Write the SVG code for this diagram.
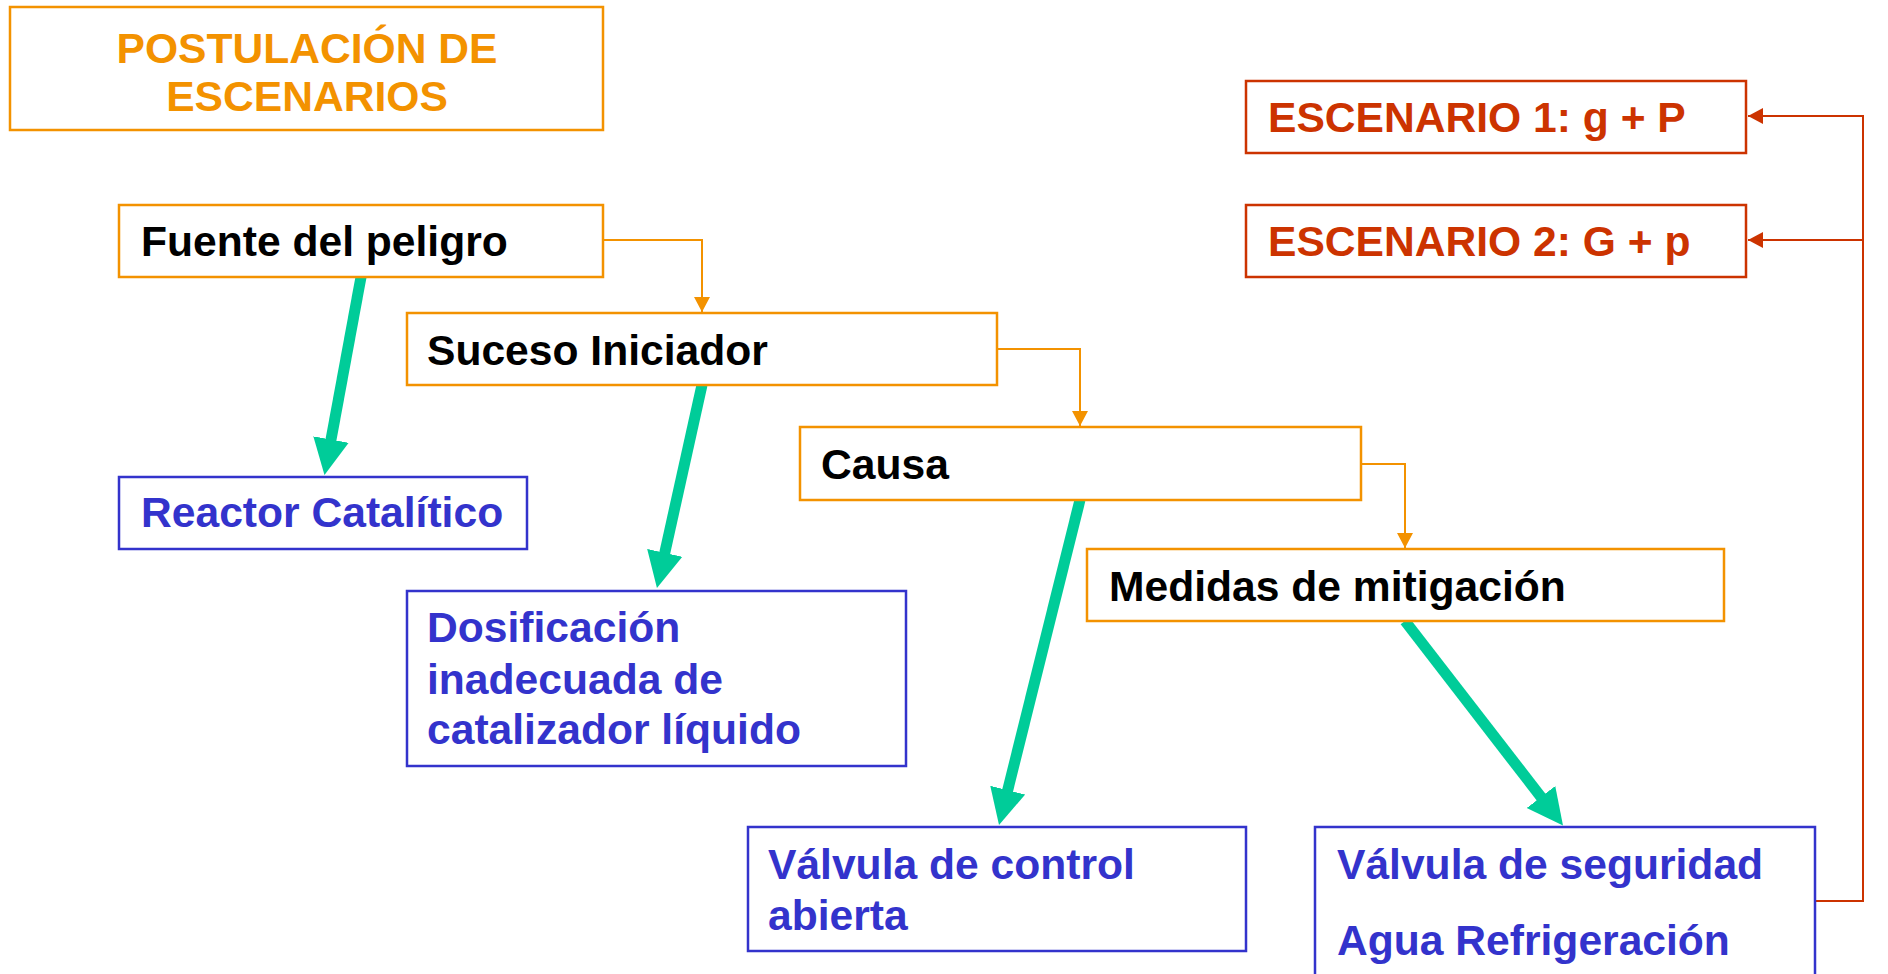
<svg xmlns="http://www.w3.org/2000/svg" width="1888" height="974" viewBox="0 0 1888 974">
<style>
  .box{fill:#FFFFFF;stroke-width:2.5}
  .or{stroke:#F39200}
  .bl{stroke:#3333CC}
  .rd{stroke:#CC3300}
  text{font-family:"Liberation Sans",Arial,sans-serif;font-weight:bold;font-size:42.6px}
  .t-or{fill:#F39200}
  .t-bk{fill:#000000}
  .t-bl{fill:#3333CC}
  .t-rd{fill:#CC3300}
  .thin{fill:none;stroke-width:2}
  .green{fill:none;stroke:#00CC99;stroke-width:11}
</style>
<defs>
  <marker id="ao" markerUnits="userSpaceOnUse" viewBox="0 -9 15 18" refX="15" refY="0" markerWidth="15" markerHeight="18" orient="auto">
    <path d="M0,-8 L15,0 L0,8 z" fill="#F39200"/>
  </marker>
  <marker id="ar" markerUnits="userSpaceOnUse" viewBox="0 -9 15 18" refX="15" refY="0" markerWidth="15" markerHeight="18" orient="auto">
    <path d="M0,-8 L15,0 L0,8 z" fill="#CC3300"/>
  </marker>
  <marker id="ag" markerUnits="userSpaceOnUse" viewBox="0 -19 38 38" refX="10" refY="0" markerWidth="38" markerHeight="38" orient="auto">
    <path d="M0,-18 L36,0 L0,18 z" fill="#00CC99"/>
  </marker>
</defs>
<rect width="1888" height="974" fill="#FFFFFF"/>

<g id="connectors">
  <path class="thin or" d="M603,240 H702 V312" marker-end="url(#ao)"/>
  <path class="thin or" d="M997,349 H1080 V426" marker-end="url(#ao)"/>
  <path class="thin or" d="M1361,464 H1405 V548" marker-end="url(#ao)"/>
  <path class="thin rd" d="M1815,901 H1863 V116 H1748" marker-end="url(#ar)" stroke-width="2.5"/>
  <path class="thin rd" d="M1863,240 H1748" marker-end="url(#ar)" stroke-width="2.5"/>
  <line class="green" x1="361" y1="277" x2="329.2" y2="449.4" marker-end="url(#ag)"/>
  <line class="green" x1="702" y1="385" x2="662.6" y2="562.6" marker-end="url(#ag)"/>
  <line class="green" x1="1080" y1="500" x2="1005.3" y2="799.8" marker-end="url(#ag)"/>
  <line class="green" x1="1405" y1="621" x2="1547.1" y2="804.9" marker-end="url(#ag)"/>
</g>

<g id="title">
  <rect class="box or" x="10" y="7" width="593" height="123"/>
  <text class="t-or" x="307" y="63" text-anchor="middle">POSTULACIÓN DE</text>
  <text class="t-or" x="307" y="111" text-anchor="middle">ESCENARIOS</text>
</g>
<g id="fuente">
  <rect class="box or" x="119" y="205" width="484" height="72"/>
  <text class="t-bk" x="141" y="256">Fuente del peligro</text>
</g>
<g id="suceso">
  <rect class="box or" x="407" y="313" width="590" height="72"/>
  <text class="t-bk" x="427" y="365">Suceso Iniciador</text>
</g>
<g id="causa">
  <rect class="box or" x="800" y="427" width="561" height="73"/>
  <text class="t-bk" x="821" y="479">Causa</text>
</g>
<g id="medidas">
  <rect class="box or" x="1087" y="549" width="637" height="72"/>
  <text class="t-bk" x="1109" y="601">Medidas de mitigación</text>
</g>
<g id="escenario1">
  <rect class="box rd" x="1246" y="81" width="500" height="72"/>
  <text class="t-rd" x="1268" y="132">ESCENARIO 1: g + P</text>
</g>
<g id="escenario2">
  <rect class="box rd" x="1246" y="205" width="500" height="72"/>
  <text class="t-rd" x="1268" y="256">ESCENARIO 2: G + p</text>
</g>
<g id="reactor">
  <rect class="box bl" x="119" y="477" width="408" height="72"/>
  <text class="t-bl" x="141" y="527">Reactor Catalítico</text>
</g>
<g id="dosificacion">
  <rect class="box bl" x="407" y="591" width="499" height="175"/>
  <text class="t-bl" x="427" y="642">Dosificación</text>
  <text class="t-bl" x="427" y="694">inadecuada de</text>
  <text class="t-bl" x="427" y="744">catalizador líquido</text>
</g>
<g id="valvula-control">
  <rect class="box bl" x="748" y="827" width="498" height="124"/>
  <text class="t-bl" x="768" y="879">Válvula de control</text>
  <text class="t-bl" x="768" y="930">abierta</text>
</g>
<g id="valvula-seguridad">
  <rect class="box bl" x="1315" y="827" width="500" height="160"/>
  <text class="t-bl" x="1337" y="879">Válvula de seguridad</text>
  <text class="t-bl" x="1337" y="955">Agua Refrigeración</text>
</g>
</svg>
